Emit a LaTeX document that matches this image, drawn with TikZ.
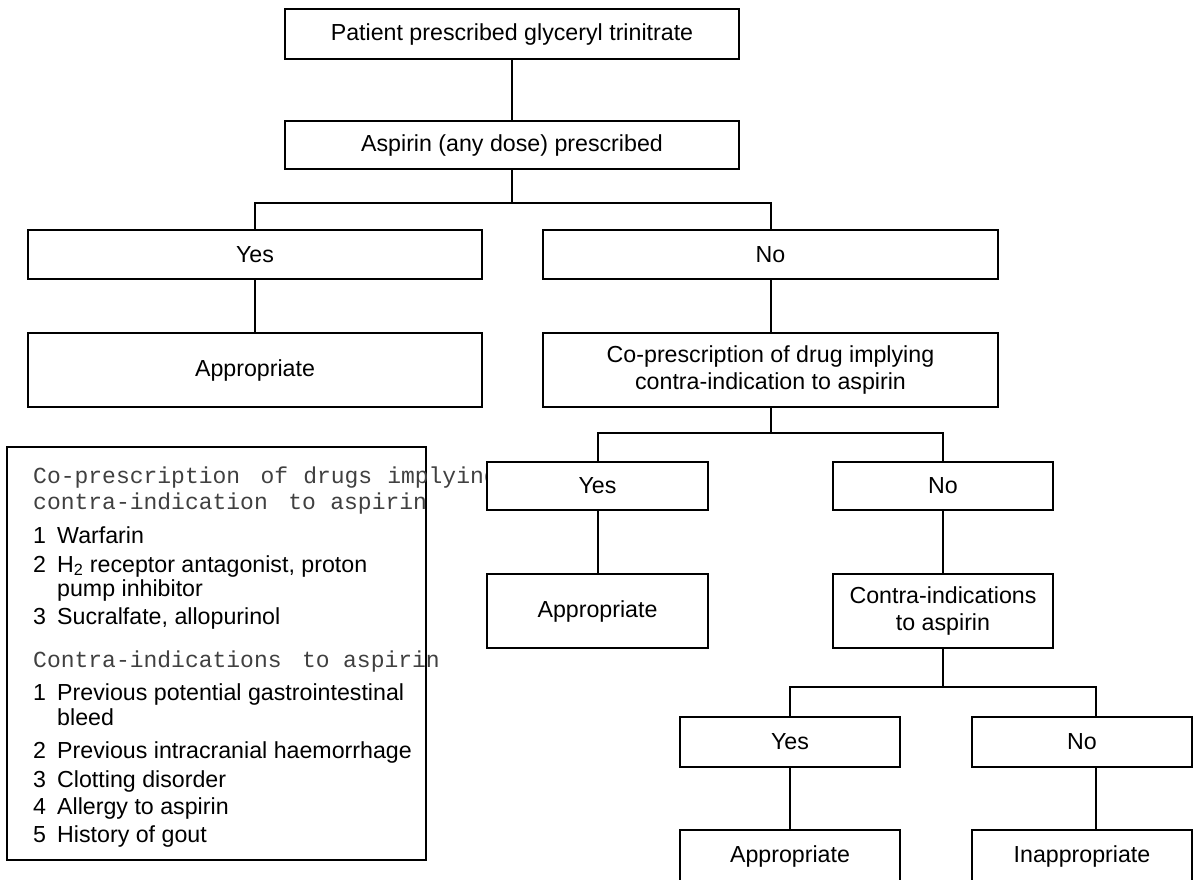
\documentclass[tikz,border=0pt]{standalone}
\usepackage{fontspec}
\setmainfont{Liberation Sans}
\setmonofont{Liberation Mono}
\usetikzlibrary{calc}
\tikzset{
  box/.style={draw, line width=2pt, fill=white, rectangle, inner sep=0pt, align=center,
    font=\fontsize{23.2}{27}\selectfont},
  link/.style={line width=2pt},
  legtxt/.style={anchor=base west, inner sep=0pt, font=\fontsize{23.2}{27}\selectfont},
  legmono/.style={anchor=base west, inner sep=0pt, font=\fontsize{23}{27}\selectfont\ttfamily, text=black!75},
  legbox/.style={draw, line width=2pt, rectangle, inner sep=0pt},
}
\newcommand{\num}[1]{\makebox[24pt][l]{#1}}
\begin{document}
\begin{tikzpicture}[x=1pt,y=-1pt]
\clip (0,0) rectangle (1194,879);
\fill[white] (0,0) rectangle (1194,879);

% legend
\node[legbox, minimum width=419pt, minimum height=413pt] (legend) at (216.5,653.5) {};
\node[legmono] (lh1) at (33,483) {Co-prescription\hspace{20.5pt}of\hspace{15pt}drugs\hspace{15pt}implying};
\node[legmono] (lh2) at (33,509) {contra-indication\hspace{20.5pt}to\hspace{14.5pt}aspirin};
\node[legtxt] (l1) at (33,543) {\num{1}Warfarin};
\node[legtxt] (l2) at (33,572) {\num{2}H\textsubscript{2} receptor antagonist, proton};
\node[legtxt] (l2b) at (57,596) {pump inhibitor};
\node[legtxt] (l3) at (33,624) {\num{3}Sucralfate, allopurinol};
\node[legmono] (lh3) at (33,667) {Contra-indications\hspace{20.5pt}to\hspace{13.5pt}aspirin};
\node[legtxt] (c1) at (33,700) {\num{1}Previous potential gastrointestinal};
\node[legtxt] (c1b) at (57,725) {bleed};
\node[legtxt] (c2) at (33,758) {\num{2}Previous intracranial haemorrhage};
\node[legtxt] (c3) at (33,787) {\num{3}Clotting disorder};
\node[legtxt] (c4) at (33,814) {\num{4}Allergy to aspirin};
\node[legtxt] (c5) at (33,842) {\num{5}History of gout};

% flowchart
\node[box, minimum width=454pt, minimum height=50pt] (top) at (512,34) {Patient prescribed glyceryl trinitrate};
\node[box, minimum width=454pt, minimum height=48pt] (asp) at (512,145) {Aspirin (any dose) prescribed};
\node[box, minimum width=454pt, minimum height=49pt] (yes1) at (255,254.5) {Yes};
\node[box, minimum width=455pt, minimum height=49pt] (no1) at (770.5,254.5) {No};
\node[box, minimum width=454pt, minimum height=74pt] (app1) at (255,370) {Appropriate};
\node[box, minimum width=455pt, minimum height=74pt] (cop) at (770.5,370) {Co-prescription of drug implying\\contra-indication to aspirin};
\node[box, minimum width=221pt, minimum height=48pt] (yes2) at (597.5,486) {Yes};
\node[box, minimum width=220pt, minimum height=48pt] (no2) at (943,486) {No};
\node[box, minimum width=221pt, minimum height=74pt] (app2) at (597.5,611) {Appropriate};
\node[box, minimum width=220pt, minimum height=74pt] (contra) at (943,611) {Contra-indications\\to aspirin};
\node[box, minimum width=220pt, minimum height=50pt] (yes3) at (790,742) {Yes};
\node[box, minimum width=220pt, minimum height=50pt] (no3) at (1082,742) {No};
\node[box, minimum width=220pt, minimum height=52pt] (app3) at (790,856) {Appropriate};
\node[box, minimum width=220pt, minimum height=52pt] (inapp) at (1082,856) {Inappropriate};

% connectors
\coordinate (j1) at (512,203);
\coordinate (j2) at (770.5,433);
\coordinate (j3) at (943,687);
\draw[link] (top.south) -- (asp.north);
\draw[link] (asp.south) -- (j1);
\draw[link] (yes1.north) |- (j1) -| (no1.north);
\draw[link] (yes1.south) -- (app1.north);
\draw[link] (no1.south) -- (cop.north);
\draw[link] (cop.south) -- (j2);
\draw[link] (yes2.north) |- (j2) -| (no2.north);
\draw[link] (yes2.south) -- (app2.north);
\draw[link] (no2.south) -- (contra.north);
\draw[link] (contra.south) -- (j3);
\draw[link] (yes3.north) |- (j3) -| ([xshift=14pt]no3.north);
\draw[link] (yes3.south) -- (app3.north);
\draw[link] ([xshift=14pt]no3.south) -- ([xshift=14pt]inapp.north);
\end{tikzpicture}
\end{document}
